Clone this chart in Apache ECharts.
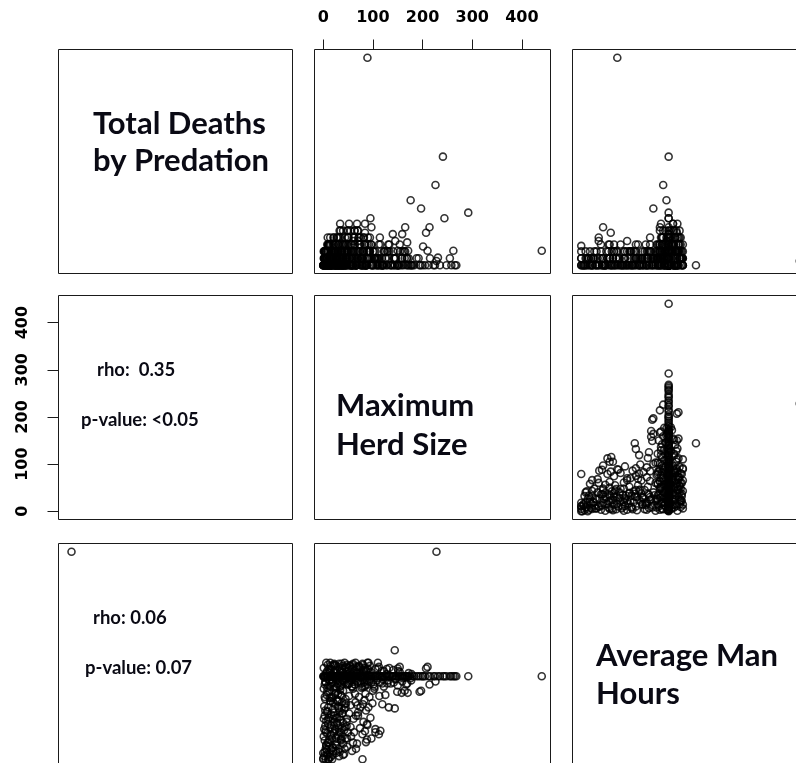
<!DOCTYPE html>
<html><head><meta charset="utf-8">
<script src="https://cdn.jsdelivr.net/npm/echarts@6/dist/echarts.min.js"></script>
<style>html,body{margin:0;padding:0;background:#fff}#c{width:796px;height:763px}</style>
</head><body><div id="c"></div><script>
// ---- data: one observation per index ----
const deaths = [
  30,15.7,11.6,9.4,8.2,7.6,6.8,5.5,4.7,0.6, 2.1,0,6.8,5.5,2.7,2.1,2.1,1.1,2.1,0,
  0,1,1,1,0,0,0,0,1,0, 1,0,0,1,0,2,0,1,0,0, 4.7,3.5,3.5,2.8,5.5,4.5,3.3,2.1,4.5,3.5,
  0,1,0,2,0,1,3,0,2,1, 0,4,1,0,3,2,0,5,1,0, 2,4,0,1,3,0,2,0,1,4, 0,2,1,0,3,0,1,2,0,0,
  1,0,0,2,0,0,1,0,0,1, 0,0,0,1,0,0,0,
  1,0,2,1,3,0,4,1,2,5, 3,1,6,2,4,0,5,3,1,6, 2,0,2,3,4,1,6,2,4,0,
  0,1,0,2,0,1,0,2,1,0, 3,1,0,2,1,0,2,1,0,3, 1,0,2,0,4,1,3,0,1,2, 0,4,1,0,1,0,2,0,1,3, 0,
  0,1,0,2,1,0,2,1,0,1, 0,1,0,3,1,0,2,1,3,0, 1,2,0,1,0,2,0,1,0,2,
  0,2,1,0,3,0,1,2,0,4, 1,0,2,3,0,1,5,0,2,1, 3,0,1,4,0,2,0,1,3,0, 2,1,0,0,1,2,0,3,0,1, 0,2,0,1,0,0,1,0,0,0,
  0,2,1,3,0,4,2,1,5,0, 3,2,4,1,0,5,2,3,1,4, 0,2,1,3,0,2,4,1,3,5, 2,0,4,1,3,2,0,1,2,3,
  0,1,0,2,1,0,1,3,0,1, 2,0,1,0,2,1,0,3,1,2, 0,1,0,2,1,0,1,2,0,1, 0,2,1,0,1,0,0,2,1,0,
  1,0,2,1,0,3,1,0,2,0, 1,0,2,1,0,1,0,2,0,1, 0,1,0,0,2,
  0,1,0,2,1,0,0,1,2,0, 1,0,2,0,1,0,3,1,0,2, 1,0,0,1,0,2,1,0,0,1, 2,0,1,0,0,1,2,0,1,0, 0,3,1,0,2,0,1,0,1,0,
  1,3,0,2,1,4,0,2,1,3, 0,2,1,0,3,1,2,0,1,0, 2,1,3,0,2,1,0,2,1,0,
  2,0,3,1,4,2,0,5,1,3, 2,4,0,1,3,5,2,0,4,1, 3,2,0,4,1,3,2,6,0,2, 4,1,3,5,0,2,4,1,3,0
];
const herd = [
  89,241,226,176,197,292,244,214,207,228, 440,144,95,97,201,210,262,231,150,194,
  154,91,110,112,105,86,79,170,158,119, 132,144,149,164,119,129,110,90,75,60, 84,60,70,10,165,159,169,171,140,145,
  0,2,5,8,10,13,16,19,22,25, 28,31,34,37,40,43,46,50,53,56, 60,63,67,70,74,78,82,86,90,94, 98,102,106,110,115,120,125,130,135,140,
  146,152,158,165,172,180,188,196,205,215, 222,235,248,255,258,265,268,
  3,8,12,15,20,24,28,32,36,40, 45,48,52,57,61,65,70,74,79,84, 88,6,18,30,44,58,68,80,90,26,
  2,8,15,20,5,12,25,3,18,30, 8,35,14,22,40,6,28,16,33,10, 24,38,4,20,30,12,26,0,5,18, 1,9,26,32,4,11,19,7,15,36, 23,
  45,50,55,48,62,66,70,75,81,88, 88,105,115,55,65,80,91,72,85,100, 42,52,60,95,35,48,58,68,40,30,
  1,4,7,9,11,14,17,21,24,27, 30,33,36,39,42,45,48,52,55,58, 62,65,69,72,76,80,84,88,92,96, 100,104,108,113,118,123,128,133,138,143, 149,155,161,168,175,183,192,200,212,225,
  1,5,9,13,17,21,25,29,33,37, 41,46,50,54,59,63,67,72,77,82, 86,92,4,10,16,22,34,38,47,55, 62,66,71,76,83,94,14,27,43,51,
  0,3,6,9,12,15,18,21,24,27, 30,33,36,39,42,2,7,13,19,25, 31,37,44,1,5,10,16,22,28,34, 40,3,8,14,20,26,32,38,11,17,
  45,58,64,77,83,97,103,118,125,52, 69,86,93,108,122,47,61,74,99,113, 56,79,128,66,89,
  0,2,4,6,8,10,12,14,16,18, 20,22,24,26,28,30,32,34,36,38, 40,42,44,46,48,50,1,3,5,7, 9,11,13,15,17,19,21,23,25,27, 29,31,33,35,37,39,41,43,45,47,
  92,96,101,105,109,114,118,122,127,131, 136,141,145,150,154,159,163,167,172,177, 94,103,112,121,133,142,151,160,169,178,
  2,6,11,16,21,26,31,35,39,43, 47,51,56,60,64,69,73,78,81,85, 89,4,9,14,19,24,29,34,39,44, 49,53,57,63,67,71,75,79,83,87
];
const hours = [
  3.3,8,7.5,7.8,6.6,8,8,7.2,8.75,20, 8,10.5,8,2.0,8,8.9,8,8,8.75,6.5,
  8.9,9.3,9.3,2.4,2.6,1.65,0,6.4,6.4,5.3, 5.0,4.9,6.5,6.6,7.3,7.3,8.75,8.75,8.75,8.75, 2.7,1.6,4.2,0,8,8,8,8,8,7.8,
  8,8,8,8,8,8,8,8,8,8, 8,8,8,8,8,8,8,8,8,8, 8,8,8,8,8,8,8,8,8,8, 8,8,8,8,8,8,8,8,8,8,
  8,8,8,8,8,8,8,8,8,8, 8,8,8,8,8,8,8,
  7.2,8.5,7.6,9.0,7.4,8.6,7.8,9.2,7.1,8.4, 7.7,9.1,7.3,8.7,7.9,9.3,7.5,8.3,7.0,8.8, 7.6,9.3,8.2,8.9,8.1,7.0,8.4,9.1,8.6,7.0,
  0.3,0.5,0.2,0.8,1.0,1.2,1.4,1.8,2.0,2.2, 2.5,2.6,3.0,3.2,3.5,3.7,4.0,4.3,4.6,5.0, 5.3,5.5,5.8,6.0,6.3,6.6,6.9,0,0,0, 2.2,1.6,0.6,1.0,3.2,4.0,4.8,6.2,5.6,1.8, 2.7,
  2.0,2.6,3.1,3.9,2.6,4.2,4.5,5.0,3.6,3.4, 1.9,2.9,2.75,5.2,5.5,5.3,5.0,6.0,6.3,6.6, 4.8,6.1,6.8,4.0,3.8,1.2,0.8,1.5,0.4,5.6,
  8,8,8,8,8,8,8,8,8,8, 8,8,8,8,8,8,8,8,8,8, 8,8,8,8,8,8,8,8,8,8, 8,8,8,8,8,8,8,8,8,8, 8,8,8,8,8,8,8,8,8,8,
  8.8,7.4,9.1,8.3,7.7,9.0,8.4,7.3,8.7,9.2, 7.5,8.9,8.2,7.8,9.1,7.2,8.6,9.0,7.9,7.4, 8.5,8.1,7.9,7.1,8.7,9.2,7.5,8.8,7.2,9.0, 8.3,7.6,8.9,7.3,8.4,7.7,9.3,8.0,9.3,8.5,
  0.1,0.7,1.3,0.4,1.9,2.4,1.1,3.6,2.9,1.7, 3.3,4.1,2.0,4.4,2.8,5.1,4.6,5.9,3.9,6.4, 4.9,6.1,5.3,6.8,2.6,3.4,0.9,4.5,5.6,6.7, 1.5,4.2,6.5,7.0,5.5,2.1,0.3,3.0,0.0,6.0,
  5.8,7.0,6.3,6.9,5.7,7.4,6.8,7.9,6.2,4.4, 5.2,4.7,6.0,7.6,8.5,3.2,3.9,3.0,5.4,6.1, 2.2,2.4,8.7,1.0,7.2,
  0.6,2.9,4.7,1.4,6.9,3.8,0.2,5.6,2.3,7.4, 1.1,4.2,6.3,0.8,3.5,5.1,2.6,7.0,1.9,4.4, 6.6,0.5,3.1,5.4,2.0,7.2,3.9,6.0,2.8,0.9, 4.6,1.6,7.6,3.3,5.9,0.4,2.5,6.8,4.0,1.3, 5.7,3.0,0.7,6.2,4.9,2.2,7.8,1.0,5.0,3.6,
  7.5,8.4,7.2,8.7,7.8,7.4,8.5,7.0,8.2,7.6, 7.3,8.6,7.7,7.1,8.4,7.5,7.9,7.2,8.3,7.6, 9.0,7.0,8.9,7.7,8.8,7.4,8.5,7.8,7.3,8.2,
  7.9,8.3,8.7,7.3,9.1,7.7,8.1,8.5,9.0,7.4, 8.0,8.8,7.6,9.2,7.2,8.2,8.9,7.8,8.6,7.1, 9.3,7.5,8.0,8.6,7.9,9.1,7.2,8.4,7.6,8.8, 7.3,9.0,8.2,7.7,8.9,7.4,8.1,9.2,7.0,8.5
];
const herdTicks = [0, 100, 200, 300, 400];
const varLabels = [['Total Deaths', 'by Predation'], ['Maximum', 'Herd Size'], ['Average Man', 'Hours']];
const corrHerd = ['rho:  0.35', 'p-value: <0.05'];
const corrHours = ['rho: 0.06', 'p-value: 0.07'];

// ---- layout ----
const vars = [deaths, herd, hours];
function padRange(a) { const mn = Math.min(...a), mx = Math.max(...a), p = (mx - mn) * 0.04; return [mn - p, mx + p]; }
const ranges = vars.map(padRange);
const colL = [58.5, 314.5, 572.5], colW = [234, 236, 236], rowT = [49.5, 295.5, 543.5], rowH = 224;

const grid = [], xAxis = [], yAxis = [], series = [];
for (let r = 0; r < 3; r++) for (let c = 0; c < 3; c++) {
  const i = r * 3 + c;
  grid.push({ left: colL[c], top: rowT[r], width: colW[c], height: rowH, show: true,
    outerBoundsMode: 'none', containLabel: false,
    borderColor: '#1a1a1a', borderWidth: 1, backgroundColor: 'rgba(0,0,0,0)' });
  xAxis.push({ type: 'value', gridIndex: i, min: ranges[c][0], max: ranges[c][1], show: false,
    axisLine: { onZero: false }, splitLine: { show: false } });
  yAxis.push({ type: 'value', gridIndex: i, min: ranges[r][0], max: ranges[r][1], show: false,
    axisLine: { onZero: false }, splitLine: { show: false } });
}
const tickFont = { fontFamily: 'DejaVu Sans', fontWeight: 'bold', fontSize: 16, color: '#000' };
Object.assign(xAxis[1], { show: true, position: 'top', axisLine: { show: false, onZero: false },
  axisTick: { show: true, length: 10, lineStyle: { color: '#1a1a1a', width: 1 }, customValues: herdTicks },
  axisLabel: Object.assign({ customValues: herdTicks, margin: 24 }, tickFont) });
Object.assign(yAxis[3], { show: true, position: 'left', axisLine: { show: false, onZero: false },
  axisTick: { show: true, length: 11, lineStyle: { color: '#1a1a1a', width: 1 }, customValues: herdTicks },
  axisLabel: Object.assign({ customValues: herdTicks, margin: 28, rotate: 90 }, tickFont) });

const pt = { type: 'scatter', symbol: 'circle', symbolSize: 7, silent: true,
  itemStyle: { color: 'rgba(0,0,0,0)', borderColor: '#000', borderWidth: 1.6 } };
[[0, 1], [0, 2], [1, 2], [2, 1]].forEach(([r, c]) => {
  series.push(Object.assign({}, pt, { xAxisIndex: r * 3 + c, yAxisIndex: r * 3 + c,
    data: vars[c].map((v, k) => [v, vars[r][k]]) }));
});
const hMax = Math.max(...hours);
series.push(Object.assign({}, pt, { xAxisIndex: 6, yAxisIndex: 6,
  data: deaths.map((v, k) => [v, hours[k]]).filter(p => p[1] === hMax) }));

// ---- texts ----
const big = 'bold 31px Lato', small = 'bold 18.5px Lato';
function txt(s, x, baseline, font, size) {
  return { type: 'text', x: x, y: baseline - size * 0.37, silent: true,
    style: { text: s, font: font, fill: '#0a0a14', textAlign: 'left', textVerticalAlign: 'middle' } };
}
const graphic = [
  txt(varLabels[0][0], 93, 135, big, 31), txt(varLabels[0][1], 93, 172, big, 31),
  txt(varLabels[1][0], 336, 417, big, 31), txt(varLabels[1][1], 336, 456, big, 31),
  txt(varLabels[2][0], 596, 667, big, 31), txt(varLabels[2][1], 596, 705, big, 31),
  txt(corrHerd[0], 97, 377, small, 18.5), txt(corrHerd[1], 81, 427, small, 18.5),
  txt(corrHours[0], 93, 625, small, 18.5), txt(corrHours[1], 85, 675, small, 18.5)
];

const chart = echarts.init(document.getElementById('c'));
chart.setOption({ animation: false, grid, xAxis, yAxis, series, graphic });
</script></body></html>
